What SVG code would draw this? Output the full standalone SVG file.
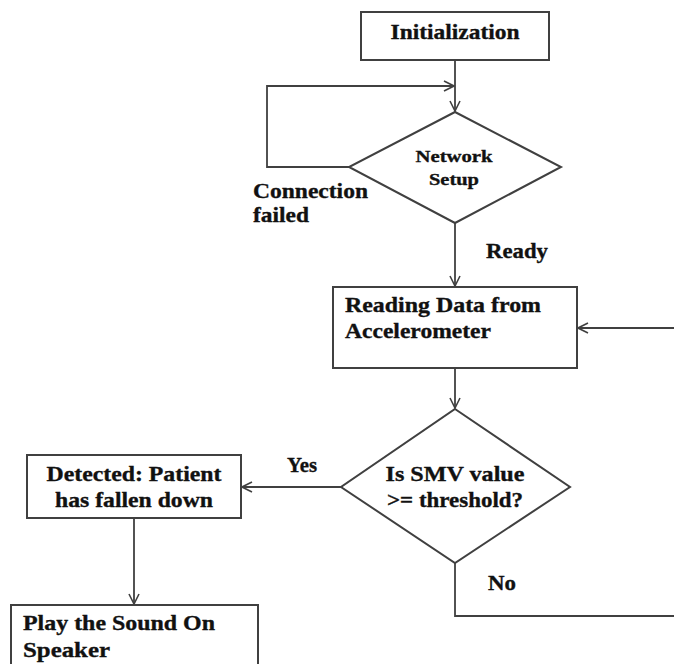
<svg xmlns="http://www.w3.org/2000/svg" width="674" height="664" viewBox="0 0 674 664">
<style>
.box{fill:#fff;stroke:#404040;stroke-width:2}
.ln{fill:none;stroke:#404040;stroke-width:1.8}
.tx{font-family:'Liberation Serif',serif;font-weight:700;fill:#111;stroke:#111;stroke-width:0.35}
.t{font-size:22px}
.s{font-size:17px}
.c{text-anchor:middle}
</style>
<defs>
<marker id="arr" viewBox="0 0 12 12" refX="11" refY="6" markerWidth="12" markerHeight="12" markerUnits="userSpaceOnUse" orient="auto">
<path d="M1,1 L11,6 L1,11" fill="none" stroke="#404040" stroke-width="1.6"/>
</marker>
</defs>
<rect width="674" height="664" fill="#fff"/>
<g id="connectors">
<path class="ln" d="M455,60 V111" marker-end="url(#arr)"/>
<path class="ln" d="M349,167 H267 V86 H454" marker-end="url(#arr)"/>
<path class="ln" d="M455,223 V286" marker-end="url(#arr)"/>
<path class="ln" d="M455,368 V408" marker-end="url(#arr)"/>
<path class="ln" d="M341,487 H242" marker-end="url(#arr)"/>
<path class="ln" d="M134,518 V604" marker-end="url(#arr)"/>
<path class="ln" d="M455,563 V616 H678 V328 H578" marker-end="url(#arr)"/>
</g>
<g id="labels" class="tx t">
<text x="253" y="198" textLength="115" lengthAdjust="spacingAndGlyphs">Connection</text>
<text x="253" y="222" textLength="56" lengthAdjust="spacingAndGlyphs">failed</text>
<text x="486" y="258" textLength="62" lengthAdjust="spacingAndGlyphs">Ready</text>
<text x="287" y="472" textLength="30" lengthAdjust="spacingAndGlyphs">Yes</text>
<text x="488" y="590" textLength="28" lengthAdjust="spacingAndGlyphs">No</text>
</g>
<g id="init">
<rect class="box" x="361" y="12" width="188" height="48"/>
<text class="tx t c" x="455" y="39" textLength="129" lengthAdjust="spacingAndGlyphs">Initialization</text>
</g>
<g id="network">
<polygon class="box" points="455,112 561,167 455,223 349,167"/>
<text class="tx s c" x="454" y="162" textLength="77" lengthAdjust="spacingAndGlyphs">Network</text>
<text class="tx s c" x="454" y="185" textLength="50" lengthAdjust="spacingAndGlyphs">Setup</text>
</g>
<g id="reading">
<rect class="box" x="333" y="287" width="244" height="81"/>
<text class="tx t" x="345" y="312" textLength="196" lengthAdjust="spacingAndGlyphs">Reading Data from</text>
<text class="tx t" x="345" y="338" textLength="146" lengthAdjust="spacingAndGlyphs">Accelerometer</text>
</g>
<g id="check">
<polygon class="box" points="455,409 570,487 455,563 341,487"/>
<text class="tx t c" x="455" y="481" textLength="139" lengthAdjust="spacingAndGlyphs">Is SMV value</text>
<text class="tx t c" x="455" y="507" textLength="136" lengthAdjust="spacingAndGlyphs">&gt;= threshold?</text>
</g>
<g id="detected">
<rect class="box" x="27" y="455" width="214" height="63"/>
<text class="tx t c" x="134" y="481" textLength="175" lengthAdjust="spacingAndGlyphs">Detected: Patient</text>
<text class="tx t c" x="134" y="507" textLength="158" lengthAdjust="spacingAndGlyphs">has fallen down</text>
</g>
<g id="play">
<rect class="box" x="11" y="605" width="247" height="80"/>
<text class="tx t" x="23" y="630" textLength="192" lengthAdjust="spacingAndGlyphs">Play the Sound On</text>
<text class="tx t" x="23" y="657" textLength="87" lengthAdjust="spacingAndGlyphs">Speaker</text>
</g>
</svg>
